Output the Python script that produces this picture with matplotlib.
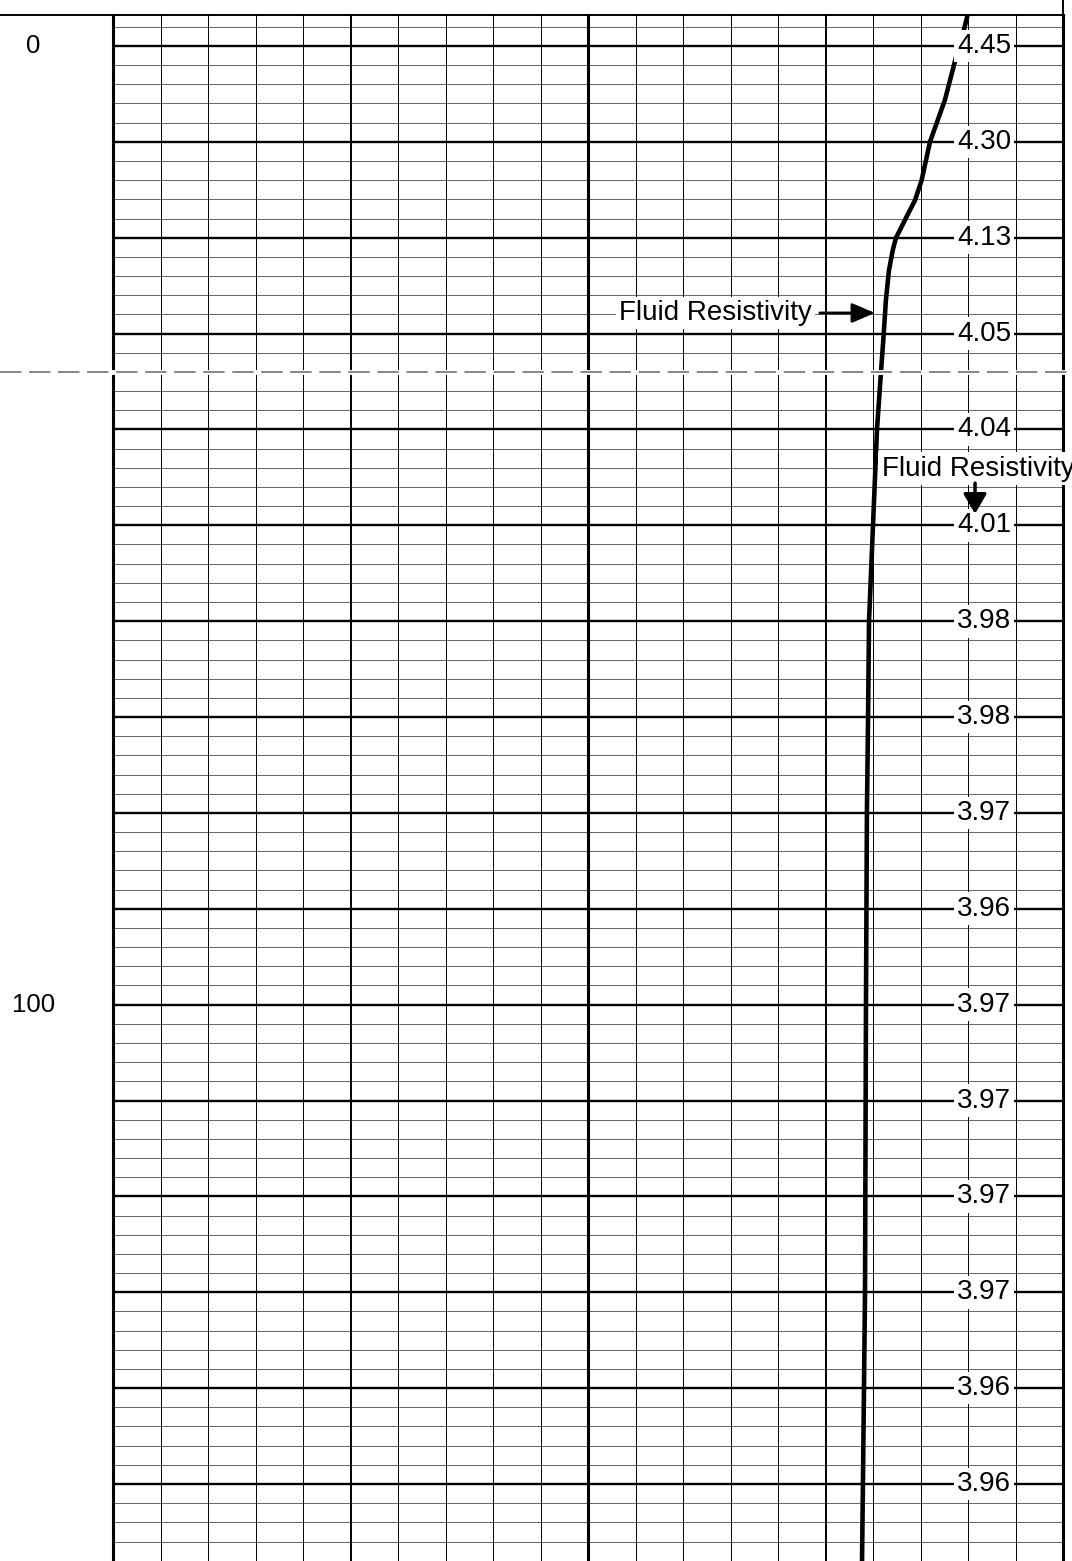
import matplotlib.pyplot as plt
from matplotlib.lines import Line2D

plt.rcParams['font.family'] = ['Liberation Sans', 'DejaVu Sans']

# fluid resistivity log (depth in ft, resistivity in ohm-m)
depth = [-3.0, -1.7, 0.4, 5.6, 10.0, 14.0, 16.1, 17.8, 19.2, 20.0, 21.3, 23.4,
         26.5, 31.0, 34.0, 40.0, 50.0, 60.0, 70.0, 80.0, 100.0, 130.0, 150.0, 158.5]
resist = [4.495, 4.479, 4.447, 4.379, 4.300, 4.256, 4.221, 4.177, 4.142, 4.121,
          4.104, 4.084, 4.068, 4.053, 4.042, 4.021, 4.000, 3.979, 3.974, 3.968,
          3.963, 3.958, 3.947, 3.942]

label_depths = [0, 10, 20, 30, 40, 50, 60, 70, 80, 90, 100, 110, 120, 130, 140, 150]
label_values = ["4.45", "4.30", "4.13", "4.05", "4.04", "4.01", "3.98", "3.98",
                "3.97", "3.96", "3.97", "3.97", "3.97", "3.97", "3.96", "3.96"]
depth_marks = [0, 100]

W, H = 1072, 1561
fig = plt.figure(figsize=(W / 100, H / 100), dpi=100)
ax = fig.add_axes([113 / W, 0, 950 / W, 1546 / H])
ax.set_xlim(0, 5)
ax.set_ylim(158.03, -3.23)
ax.axis('off')

# horizontal grid: heavy every 10 ft, light every 2 ft
for d in range(-2, 159, 2):
    if d % 10 == 0:
        ax.axhline(d, color='black', lw=1.7, zorder=1)
    else:
        ax.axhline(d, color='0.3', lw=0.6, zorder=1)

# vertical grid: 20 divisions, heavier every 5 and 10
for i in range(21):
    x = i * 0.25
    if i % 10 == 0:
        lw = 2.2
    elif i % 5 == 0:
        lw = 1.4
    else:
        lw = 0.7
    ax.axvline(x, color='black', lw=lw, zorder=1, clip_on=False)

# header border
ytop = 1546 / H
fig.add_artist(Line2D([0, 1063 / W], [ytop, ytop], color='black', lw=1.4))
fig.add_artist(Line2D([1063 / W, 1063 / W], [ytop, 1], color='black', lw=1.4))

# break in the log
ybrk = (H - 372) / H
fig.add_artist(Line2D([0, 1], [ybrk, ybrk], color='white', lw=3.5, zorder=2))
fig.add_artist(Line2D([0, 1], [ybrk, ybrk], color='0.4', lw=1.1,
                      dashes=(14, 5), zorder=2.5))

ax.plot(resist, depth, color='black', lw=3.3, solid_joinstyle='round',
        zorder=3, clip_on=False)

box = dict(boxstyle='square,pad=0.12', fc='white', ec='none')
for d, v in zip(label_depths, label_values):
    ax.text(4.584, d, v, ha='center', va='center', fontsize=20, bbox=box, zorder=5)

tr = ax.get_yaxis_transform()
for d in depth_marks:
    ax.text(-0.084, d, str(d), ha='center', va='center', fontsize=18.5,
            transform=tr, clip_on=False)

ax.text(3.679, 27.85, "Fluid Resistivity", ha='right', va='center', fontsize=20,
        bbox=box, zorder=5)
ax.annotate("", xy=(4.01, 27.85), xytext=(3.72, 27.85),
            arrowprops=dict(arrowstyle='-|>,head_length=0.7,head_width=0.3',
                            color='black', lw=2, mutation_scale=20,
                            shrinkA=0, shrinkB=0), zorder=5)

ax.text(4.045, 44.1, "Fluid Resistivity", ha='left', va='center', fontsize=20,
        bbox=box, zorder=5, clip_on=False)
ax.annotate("", xy=(4.537, 48.8), xytext=(4.537, 45.6),
            arrowprops=dict(arrowstyle='-|>,head_length=0.6,head_width=0.35',
                            color='black', lw=2.5, mutation_scale=20,
                            shrinkA=0, shrinkB=0), zorder=6)

fig.savefig('out.png', dpi=100)
